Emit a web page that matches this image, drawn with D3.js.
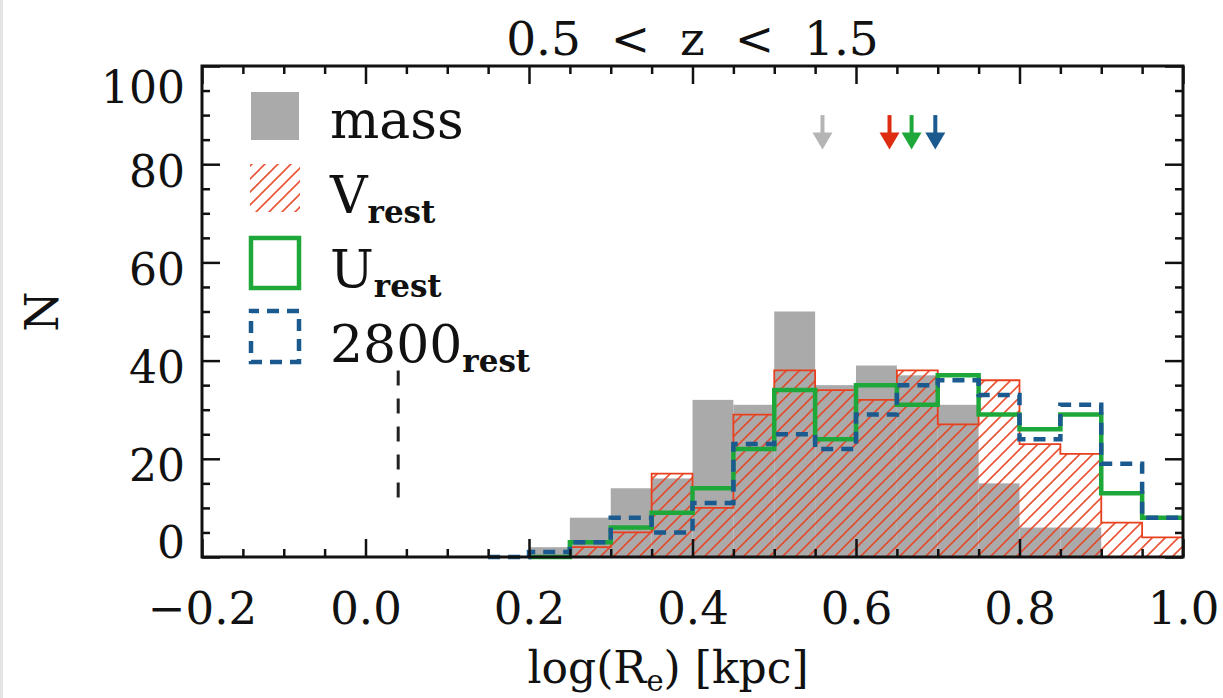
<!DOCTYPE html>
<html>
<head>
<meta charset="utf-8">
<script src="https://cdn.jsdelivr.net/npm/d3@7"></script>
<style>
  html, body { margin: 0; padding: 0; background: #fff; }
  svg { display: block; }
  text { font-family: "DejaVu Serif", serif; fill: #111; }
</style>
</head>
<body>
<svg id="chart" width="1223" height="698"></svg>
<script>
// left edges of the histogram bins, log(Re) [kpc]
const binEdges = [0.15, 0.20, 0.25, 0.30, 0.35, 0.40, 0.45, 0.50, 0.55, 0.60, 0.65, 0.70, 0.75, 0.80, 0.85, 0.90, 0.95];
const binWidth = 0.05;

// counts per bin (null = series not drawn there)
const massCounts  = [0, 2, 8, 14, 16, 32, 31, 50, 35, 39, 37, 31, 15, 6, 6, 0, 0];
const vRestCounts = [null, null, 2, 5, 17, 10, 29, 38, 34, 32, 38, 27, 36, 23, 21, 7, 4];
const uRestCounts = [null, 0, 3, 6, 9, 14, 22, 34, 24, 35, 31, 37, 29, 26, 29, 13, 8];
const r2800Counts = [0, 1, 3, 8, 5, 11, 23, 25, 22, 29, 35, 36, 33, 24, 31, 19, 8];

// median sizes marked by arrows: mass, V, U, 2800
const medianNames  = ['mass', 'V', 'U', '2800'];
const medianValues = [0.559, 0.641, 0.668, 0.697];
const arrowTop = 90, arrowBottom = 83;

// vertical dashed line (resolution limit)
const limitX = 0.04;
const limitRange = [12, 38];

const xTicks = [-0.2, 0.0, 0.2, 0.4, 0.6, 0.8, 1.0];
const yTicks = [0, 20, 40, 60, 80, 100];

const colors = {
  mass: '#aaaaaa',
  V: '#e8401f',
  U: '#1fa83a',
  '2800': '#1b5a8e',
  massArrow: '#b5b5b5',
  VArrow: '#dd2c10'
};

const params = {
  left: 202, right: 1183, top: 66, bottom: 557,
  majorTick: 18, minorTick: 8
};

const svg = d3.select('#chart');

// thin grey strip on the far left of the original image
svg.append('rect').attr('x', 0).attr('y', 0).attr('width', 3).attr('height', 698).attr('fill', '#e4e4e4');

const x = d3.scaleLinear().domain([-0.2, 1.0]).range([params.left, params.right]);
const y = d3.scaleLinear().domain([0, 100]).range([params.bottom, params.top]);

// hatch pattern for V_rest
const defs = svg.append('defs');
const hatch = defs.append('pattern')
  .attr('id', 'hatch')
  .attr('patternUnits', 'userSpaceOnUse')
  .attr('width', 13)
  .attr('height', 13);
hatch.append('path')
  .attr('d', 'M0,13 L13,0 M-3,3 L3,-3 M10,16 L16,10')
  .attr('stroke', colors.V)
  .attr('stroke-width', 1.6)
  .attr('opacity', 0.9);

function toPoints(counts) {
  const pts = [];
  counts.forEach((v, i) => { if (v !== null) pts.push({ x: binEdges[i], v }); });
  const last = pts[pts.length - 1];
  pts.push({ x: last.x + binWidth, v: last.v });
  return pts;
}

function outlinePoints(counts) {
  const pts = toPoints(counts);
  return [{ x: pts[0].x, v: 0 }].concat(pts);
}

const stepLine = d3.line()
  .curve(d3.curveStepAfter)
  .x(d => x(d.x))
  .y(d => y(d.v));

const stepArea = d3.area()
  .curve(d3.curveStepAfter)
  .x(d => x(d.x))
  .y0(y(0))
  .y1(d => y(d.v));

const plot = svg.append('g');

// mass: filled grey bars
plot.selectAll('.mass-bar')
  .data(binEdges.map((b, i) => ({ x: b, v: massCounts[i] })).filter(d => d.v > 0))
  .enter()
  .append('rect')
    .attr('class', 'mass-bar')
    .attr('x', d => x(d.x))
    .attr('y', d => y(d.v))
    .attr('width', d => x(d.x + binWidth) - x(d.x))
    .attr('height', d => y(0) - y(d.v))
    .attr('fill', colors.mass);

// V_rest: hatched area + thin red outline
plot.append('path')
  .attr('d', stepArea(toPoints(vRestCounts)))
  .attr('fill', 'url(#hatch)');
plot.append('path')
  .attr('d', stepLine(outlinePoints(vRestCounts)))
  .attr('fill', 'none')
  .attr('stroke', colors.V)
  .attr('stroke-width', 1.8);

// U_rest: thick green step line
plot.append('path')
  .attr('d', stepLine(outlinePoints(uRestCounts)))
  .attr('fill', 'none')
  .attr('stroke', colors.U)
  .attr('stroke-width', 4.5);

// 2800_rest: dashed blue step line
plot.append('path')
  .attr('d', stepLine(outlinePoints(r2800Counts)))
  .attr('fill', 'none')
  .attr('stroke', colors['2800'])
  .attr('stroke-width', 4.5)
  .attr('stroke-dasharray', '12,8');

// dashed vertical line
plot.append('line')
  .attr('x1', x(limitX)).attr('x2', x(limitX))
  .attr('y1', y(limitRange[1])).attr('y2', y(limitRange[0]))
  .attr('stroke', '#222')
  .attr('stroke-width', 3)
  .attr('stroke-dasharray', '15,13');

// median arrows
const arrowColors = [colors.massArrow, colors.VArrow, colors.U, colors['2800']];
const arrows = plot.selectAll('.arrow')
  .data(medianValues.map((m, i) => ({ m, c: arrowColors[i], name: medianNames[i] })))
  .enter()
  .append('g')
    .attr('class', 'arrow');
arrows.append('line')
  .attr('x1', d => x(d.m)).attr('x2', d => x(d.m))
  .attr('y1', y(arrowTop)).attr('y2', y(arrowBottom) - 12)
  .attr('stroke', d => d.c)
  .attr('stroke-width', 4);
arrows.append('path')
  .attr('d', d => {
    const cx = x(d.m), by = y(arrowBottom);
    return `M${cx - 10},${by - 17} L${cx + 10},${by - 17} L${cx},${by} Z`;
  })
  .attr('fill', d => d.c);

// axes: inward ticks on all four sides
const xMinor = d3.range(-0.2, 1.0001, 0.05).filter(v => !xTicks.some(t => Math.abs(t - v) < 1e-6));
const yMinor = d3.range(0, 100.001, 5).filter(v => v % 20 !== 0);

function styleAxis(g) {
  g.select('.domain').remove();
  g.selectAll('.tick line').attr('stroke', '#111').attr('stroke-width', 2.5);
}

svg.append('g')
  .attr('transform', `translate(0,${params.bottom})`)
  .call(d3.axisBottom(x).tickValues(xTicks).tickSize(-params.majorTick).tickPadding(35).tickFormat(d3.format('.1f')))
  .call(styleAxis)
  .call(g => g.selectAll('text').attr('font-size', 45).attr('font-family', 'DejaVu Serif'));
svg.append('g')
  .attr('transform', `translate(0,${params.bottom})`)
  .call(d3.axisBottom(x).tickValues(xMinor).tickSize(-params.minorTick).tickFormat(''))
  .call(styleAxis);
svg.append('g')
  .attr('transform', `translate(0,${params.top})`)
  .call(d3.axisTop(x).tickValues(xTicks).tickSize(-params.majorTick).tickFormat(''))
  .call(styleAxis);
svg.append('g')
  .attr('transform', `translate(0,${params.top})`)
  .call(d3.axisTop(x).tickValues(xMinor).tickSize(-params.minorTick).tickFormat(''))
  .call(styleAxis);

svg.append('g')
  .attr('transform', `translate(${params.left},0)`)
  .call(d3.axisLeft(y).tickValues(yTicks).tickSize(-params.majorTick).tickPadding(17).tickFormat(d3.format('d')))
  .call(styleAxis)
  .call(g => g.selectAll('text')
    .attr('font-size', 44)
    .attr('font-family', 'DejaVu Serif')
    // IDL keeps the end labels inside the frame
    .attr('dy', null)
    .attr('y', d => {
      const base = y(d) + 22;
      return Math.max(params.top + 36, Math.min(params.bottom, base)) - y(d);
    }));
svg.append('g')
  .attr('transform', `translate(${params.left},0)`)
  .call(d3.axisLeft(y).tickValues(yMinor).tickSize(-params.minorTick).tickFormat(''))
  .call(styleAxis);
svg.append('g')
  .attr('transform', `translate(${params.right},0)`)
  .call(d3.axisRight(y).tickValues(yTicks).tickSize(-params.majorTick).tickFormat(''))
  .call(styleAxis);
svg.append('g')
  .attr('transform', `translate(${params.right},0)`)
  .call(d3.axisRight(y).tickValues(yMinor).tickSize(-params.minorTick).tickFormat(''))
  .call(styleAxis);

// frame
svg.append('rect')
  .attr('x', params.left).attr('y', params.top)
  .attr('width', params.right - params.left)
  .attr('height', params.bottom - params.top)
  .attr('fill', 'none')
  .attr('stroke', '#111')
  .attr('stroke-width', 3);

// title and axis labels
svg.append('text')
  .attr('x', (params.left + params.right) / 2)
  .attr('y', 55)
  .attr('text-anchor', 'middle')
  .attr('font-size', 47)
  .style('white-space', 'pre')
  .text('0.5  <  z  <  1.5');

const xLabel = svg.append('text')
  .attr('x', 668)
  .attr('y', 683)
  .attr('text-anchor', 'middle')
  .attr('font-size', 44);
xLabel.append('tspan').text('log(R');
xLabel.append('tspan').attr('font-size', 29).attr('dy', 8).text('e');
xLabel.append('tspan').attr('dy', -8).text(') [kpc]');

svg.append('text')
  .attr('transform', `translate(58,${(params.top + params.bottom) / 2}) rotate(-90)`)
  .attr('text-anchor', 'middle')
  .attr('font-size', 46)
  .text('N');

// legend
const legendItems = [
  { main: 'mass', sub: '' },
  { main: 'V', sub: 'rest' },
  { main: 'U', sub: 'rest' },
  { main: '2800', sub: 'rest' }
];
const legend = svg.append('g');
legendItems.forEach((item, i) => {
  const top = 92 + i * 72;
  const base = 138 + i * 74.5;
  if (i === 0) {
    legend.append('rect').attr('x', 251).attr('y', top).attr('width', 48).attr('height', 48).attr('fill', colors.mass);
  } else if (i === 1) {
    legend.append('rect').attr('x', 250).attr('y', top).attr('width', 50).attr('height', 48).attr('fill', 'url(#hatch)');
  } else if (i === 2) {
    legend.append('rect').attr('x', 251).attr('y', top + 2).attr('width', 48).attr('height', 50)
      .attr('fill', 'none').attr('stroke', colors.U).attr('stroke-width', 4.5);
  } else {
    legend.append('rect').attr('x', 251).attr('y', top + 3).attr('width', 48).attr('height', 51)
      .attr('fill', 'none').attr('stroke', colors['2800']).attr('stroke-width', 4.5)
      .attr('stroke-dasharray', '12,8').attr('stroke-dashoffset', 4);
  }
  const t = legend.append('text').attr('x', 330).attr('y', base).attr('font-size', 52);
  t.append('tspan').text(item.main);
  if (item.sub) {
    t.append('tspan').attr('font-size', 31).attr('font-weight', 'bold').attr('dy', 10).text(item.sub);
  }
});
</script>
</body>
</html>
